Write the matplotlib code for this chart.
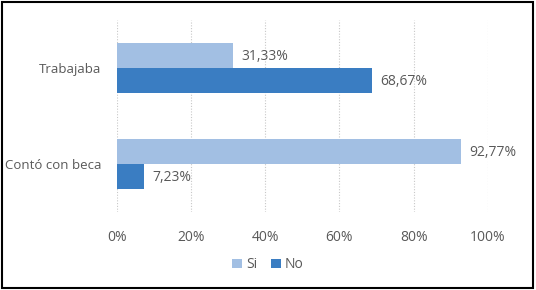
import numpy as np
import matplotlib.pyplot as plt
from matplotlib.patches import Rectangle

plt.rcParams['font.family'] = ['Open Sans', 'DejaVu Sans']

categorias = ['Contó con beca', 'Trabajaba']
si = [92.77, 31.33]
no = [7.23, 68.67]
etiquetas_si = ['92,77%', '31,33%']
etiquetas_no = ['7,23%', '68,67%']
xticks = [0, 20, 40, 60, 80, 100]

gris = '#595959'
c_si = '#a2bfe3'
c_no = '#3a7dc2'

fig = plt.figure(figsize=(5.36, 2.90), dpi=100)
ax = fig.add_axes([0.218, 0.269, 0.692, 0.662])

y = np.arange(len(categorias))
h = 0.26
ax.barh(y + h/2, si, height=h, color=c_si, label='Si', zorder=3)
ax.barh(y - h/2, no, height=h, color=c_no, label='No', zorder=3)

for i in range(len(categorias)):
    ax.annotate(etiquetas_si[i], (si[i], y[i] + h/2), xytext=(6, -1),
                textcoords='offset points', va='center', ha='left',
                fontsize=10, color=gris)
    ax.annotate(etiquetas_no[i], (no[i], y[i] - h/2), xytext=(6, -1),
                textcoords='offset points', va='center', ha='left',
                fontsize=10, color=gris)

ax.set_xlim(0, 100)
ax.set_ylim(-0.5, 1.5)
ax.set_xticks(xticks)
ax.set_xticklabels([f'{t}%' for t in xticks])
ax.set_yticks(y)
ax.set_yticklabels(categorias)
ax.tick_params(length=0, labelsize=10, colors=gris)
ax.tick_params(axis='y', labelsize=9.5, pad=11)
ax.tick_params(axis='x', pad=13)
ax.xaxis.grid(True, color='#c8c8c8', linestyle=(0, (1, 1.5)), linewidth=0.8, zorder=0)
for s in ax.spines.values():
    s.set_visible(False)

leg = fig.legend(loc='center', bbox_to_anchor=(0.5, 0.087), ncol=2, frameon=False,
                 fontsize=10, handlelength=0.7, handleheight=0.7, handletextpad=0.3,
                 columnspacing=1.0, labelcolor=gris)

fig.patches.append(Rectangle((0.004, 0.006), 0.991, 0.987, transform=fig.transFigure,
                             fill=False, edgecolor='black', linewidth=1.5))

fig.savefig('out.png', dpi=100)
